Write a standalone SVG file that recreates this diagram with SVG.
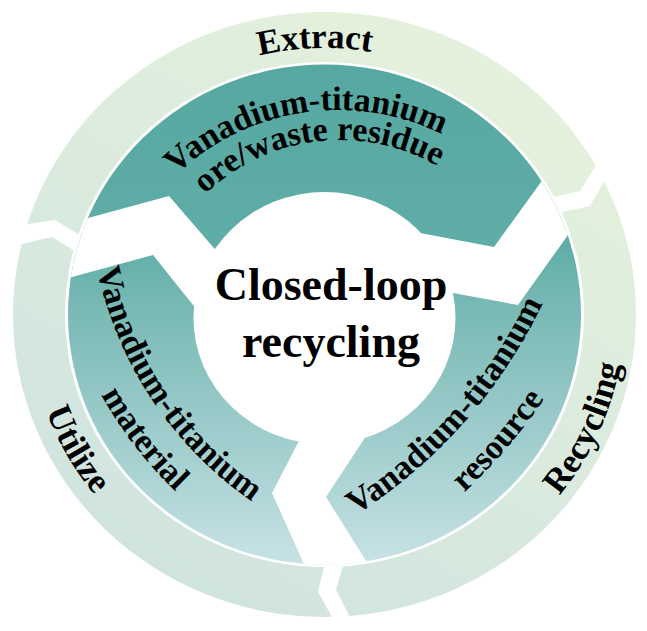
<svg xmlns="http://www.w3.org/2000/svg" width="647" height="631" viewBox="0 0 647 631">
  <style>
    .lbl { font-family: "Liberation Serif", "Times New Roman", serif; font-weight: bold; fill: #000; }
    .ring { font-size: 35px; }
    .inner { font-size: 34px; }
    .center { font-size: 46px; text-anchor: middle; }
    .gap { fill: #fff; }
  </style>
  <defs>
    <linearGradient id="gOuter" gradientUnits="userSpaceOnUse" x1="500" y1="30" x2="150" y2="600">
      <stop offset="0" stop-color="#e5f2dc"/>
      <stop offset="1" stop-color="#cfe3df"/>
    </linearGradient>
    <linearGradient id="gTeal" gradientUnits="userSpaceOnUse" x1="0" y1="64" x2="0" y2="565">
      <stop offset="0" stop-color="#56a8a1"/>
      <stop offset="0.36" stop-color="#5fada7"/>
      <stop offset="0.47" stop-color="#76b8b3"/>
      <stop offset="0.77" stop-color="#a3cfcf"/>
      <stop offset="1" stop-color="#c8e2e6"/>
    </linearGradient>
    <clipPath id="clipTeal">
      <ellipse cx="324.5" cy="314.5" rx="256.5" ry="250"/>
    </clipPath>
    <!-- text paths -->
    <path id="pExtract" d="M 50 314.5 A 274.5 266.5 0 0 1 599 314.5"/>
    <path id="pRecycling" d="M 324.5 605.5 A 300 291 0 0 0 324.5 23.5"/>
    <path id="pUtilize" d="M 324.5 27.5 A 295.6 287 0 0 0 324.5 601.5"/>
    <path id="pTop1" d="M 103 345 A 235 235 0 0 1 573 345"/>
    <path id="pTop2" d="M 145 335 A 195 195 0 0 1 535 335"/>
    <path id="pLeft1" d="M 111.7 62.1 A 377 377 0 0 0 531.5 562.3"/>
    <path id="pLeft2" d="M 73.2 48 A 418 418 0 0 0 538.6 602.6"/>
    <path id="pRight1" d="M 256.6 563.8 A 509 509 0 0 0 583.8 173.9"/>
    <path id="pRight2" d="M 273.3 609.8 A 558 558 0 0 0 632 182.4"/>
  </defs>

  <rect width="647" height="631" fill="#fff"/>

  <!-- outer ring: Extract / Recycling / Utilize -->
  <g id="outer-ring">
    <path fill="url(#gOuter)" fill-rule="evenodd" d="M 13 314.5 A 311.5 302.5 0 1 0 636 314.5 A 311.5 302.5 0 1 0 13 314.5 Z M 65 314.5 A 259.5 252.5 0 1 0 584 314.5 A 259.5 252.5 0 1 0 65 314.5 Z"/>
  </g>

  <!-- separators between the arrow segments -->
  <g id="connectors">
    <polygon class="gap" points="13,226 28,224 55,220 80,235 89,240 82,255.5 73,250 52,237 22,244 7,247.5"/>
    <polygon class="gap" points="604,152.6 595,167 580,191 553,197 542,199.4 551,214.4 562,212 590,206 603,183 611,169"/>
    <polygon class="gap" points="325.8,558 324,566 318,592 332,617 337.6,627 355.6,627.8 350,617 336,590 343,566 345,558.8"/>
  </g>

  <!-- inner teal ring -->
  <g id="inner-ring">
    <ellipse cx="324.5" cy="314.5" rx="256.5" ry="250" fill="url(#gTeal)"/>
    <ellipse cx="324.5" cy="318" rx="131" ry="126" fill="#fff"/>
    <g clip-path="url(#clipTeal)">
      <polygon class="gap" points="72,222 88,218 169,196 213,247 235,272.5 213,330 193,305 153,255 72,277 56,281"/>
      <polygon class="gap" points="398,229 420,233 494,247 541,182 555,162.5 583,214 568,235 518,305 453,293 420.5,287"/>
      <polygon class="gap" points="317.5,409.5 301,437 272,493 303,562 308,572.5 372,570.6 366,561 326,497 370,430 392,396.5"/>
    </g>
  </g>

  <g id="node-extract">
    <text class="lbl ring"><textPath href="#pExtract" startOffset="48.9%" text-anchor="middle">Extract</textPath></text>
  </g>
  <g id="node-recycling">
    <text class="lbl ring"><textPath href="#pRecycling" startOffset="36.7%" text-anchor="middle">Recycling</textPath></text>
  </g>
  <g id="node-utilize">
    <text class="lbl ring"><textPath href="#pUtilize" startOffset="66.1%" text-anchor="middle">Utilize</textPath></text>
  </g>

  <g id="node-ore">
    <text class="lbl inner"><textPath href="#pTop1" startOffset="45.2%" text-anchor="middle">Vanadium-titanium</textPath></text>
    <text class="lbl inner"><textPath href="#pTop2" startOffset="46.2%" text-anchor="middle">ore/waste residue</textPath></text>
  </g>
  <g id="node-material">
    <text class="lbl inner"><textPath href="#pLeft1" startOffset="44.75%" text-anchor="middle">Vanadium-titanium</textPath></text>
    <text class="lbl inner"><textPath href="#pLeft2" startOffset="48%" text-anchor="middle">material</textPath></text>
  </g>
  <g id="node-resource">
    <text class="lbl inner"><textPath href="#pRight1" startOffset="47.6%" text-anchor="middle">Vanadium-titanium</textPath></text>
    <text class="lbl inner"><textPath href="#pRight2" startOffset="49.2%" text-anchor="middle">resource</textPath></text>
  </g>

  <g id="node-center">
    <text class="lbl center" x="331" y="300">Closed-loop</text>
    <text class="lbl center" x="331" y="357">recycling</text>
  </g>
</svg>
